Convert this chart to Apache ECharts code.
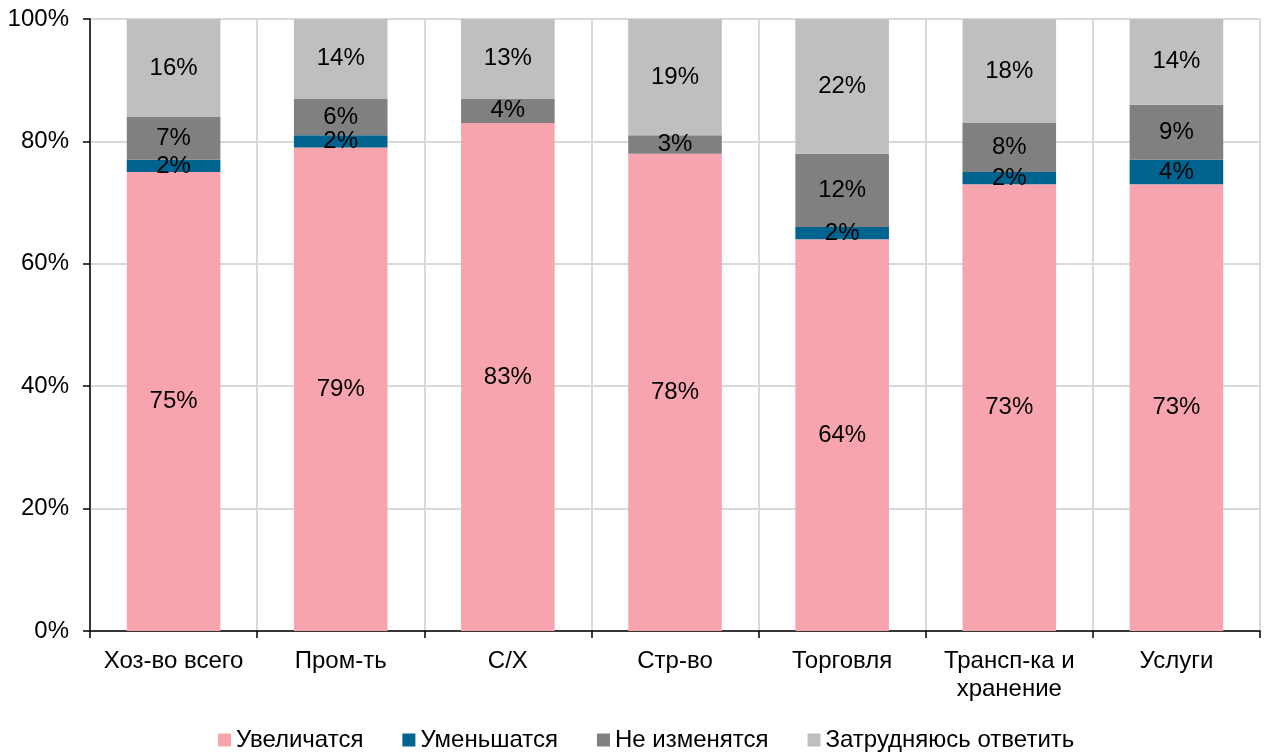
<!DOCTYPE html>
<html>
<head>
<meta charset="utf-8">
<script src="https://cdn.jsdelivr.net/npm/echarts@6/dist/echarts.min.js"></script>
<style>
  html, body { margin: 0; padding: 0; background: #fff; }
  #chart { width: 1270px; height: 753px; }
</style>
</head>
<body>
<div id="chart"></div>
<script>
// Sectors
const categories = ['Хоз-во всего', 'Пром-ть', 'С/Х', 'Стр-во', 'Торговля', 'Трансп-ка и\nхранение', 'Услуги'];

// Shares of answers, %
const increase   = [75, 79, 83, 78, 64, 73, 73];
const decrease   = [2, 2, 0, 0, 2, 2, 4];
const noChange   = [7, 6, 4, 3, 12, 8, 9];
const hardToSay  = [16, 14, 13, 19, 22, 18, 14];

const seriesNames = ['Увеличатся', 'Уменьшатся', 'Не изменятся', 'Затрудняюсь ответить'];
const colors = ['#F7A4AF', '#006490', '#808080', '#BFBFBF'];

const FONT = '"Liberation Sans", Arial, sans-serif';
const FS = 24;

function makeSeries(name, data, color) {
  return {
    name: name,
    type: 'bar',
    stack: 'total',
    barWidth: '56%',
    data: data,
    itemStyle: { color: color },
    label: {
      show: true,
      position: 'inside',
      color: '#000',
      fontSize: FS,
      fontFamily: FONT,
      formatter: p => (p.value > 0 ? p.value + '%' : '')
    },
    emphasis: { disabled: true }
  };
}

const chart = echarts.init(document.getElementById('chart'), null, { renderer: 'canvas' });
chart.setOption({
  animation: false,
  backgroundColor: '#fff',
  textStyle: { fontFamily: FONT },
  grid: { left: 90, right: 10, top: 19, bottom: 122, containLabel: false },
  legend: {
    top: 723,
    left: 213,
    padding: [5, 5, 0, 5],
    itemWidth: 13,
    itemHeight: 13,
    itemGap: 39,
    icon: 'rect',
    textStyle: { fontSize: FS, color: '#000', fontFamily: FONT },
    data: seriesNames
  },
  xAxis: {
    type: 'category',
    data: categories,
    axisLine: { lineStyle: { color: '#000', width: 1.5 } },
    axisTick: { show: true, alignWithLabel: false, length: 7, lineStyle: { color: '#000', width: 1.5 } },
    axisLabel: { color: '#000', fontSize: FS, fontFamily: FONT, margin: 16, lineHeight: 28, interval: 0 },
    splitLine: { show: true, lineStyle: { color: '#D9D9D9', width: 2 } }
  },
  yAxis: {
    type: 'value',
    min: 0,
    max: 100,
    interval: 20,
    axisLine: { show: true, lineStyle: { color: '#000', width: 1.5 } },
    axisTick: { show: true, length: 7, lineStyle: { color: '#000', width: 1.5 } },
    axisLabel: { color: '#000', fontSize: FS, fontFamily: FONT, margin: 21, formatter: '{value}%' },
    splitLine: { show: true, lineStyle: { color: '#D9D9D9', width: 2 } }
  },
  series: [
    makeSeries(seriesNames[0], increase, colors[0]),
    makeSeries(seriesNames[1], decrease, colors[1]),
    makeSeries(seriesNames[2], noChange, colors[2]),
    makeSeries(seriesNames[3], hardToSay, colors[3])
  ]
});
</script>
</body>
</html>
